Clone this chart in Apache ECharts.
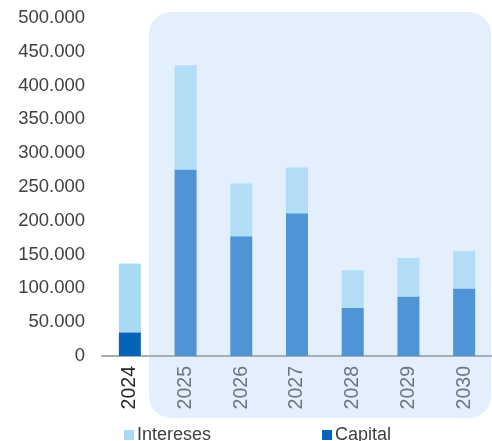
<!DOCTYPE html>
<html lang="es">
<head>
    <meta charset="UTF-8">
    <title>Capital e Intereses</title>
    <script src="https://cdn.jsdelivr.net/npm/echarts@6/dist/echarts.min.js"></script>
</head>
<body style="margin:0;">
<div id="main" style="width:492px; height:441px;"></div>
</body>
<script type="text/javascript">

    // datos del gráfico
    let years = ['2024', '2025', '2026', '2027', '2028', '2029', '2030'];
    let capital = [35000, 276000, 177000, 211000, 71000, 88000, 100000];
    let intereses = [102000, 154000, 78000, 68000, 56000, 57000, 55000];
    let yTicks = [0, 50000, 100000, 150000, 200000, 250000, 300000, 350000, 400000, 450000, 500000];

    // 2024 con color fuerte, el resto en tono proyectado
    function colorize(values, first, rest) {
        return values.map(function (v, i) {
            return {value: v, itemStyle: {color: i === 0 ? first : rest}};
        });
    }

    let myChart = echarts.init(document.getElementById('main'));

    let option = {
        animation: false,
        textStyle: {fontFamily: 'Liberation Sans, Arial, sans-serif'},
        graphic: [{
            type: 'rect',
            z: -10,
            silent: true,
            shape: {x: 149, y: 12, width: 342, height: 406, r: 22},
            style: {fill: '#e3effc'}
        }],
        grid: {left: 102, right: 0, top: 18, bottom: 85},
        legend: {
            data: ['Intereses', 'Capital'],
            left: 119,
            top: 421,
            itemWidth: 10,
            itemHeight: 10,
            itemGap: 111,
            icon: 'rect',
            textStyle: {fontSize: 18, color: '#404040', padding: [0, 0, 0, -2]}
        },
        xAxis: {
            type: 'category',
            data: years,
            axisTick: {show: false},
            axisLine: {lineStyle: {color: '#a8adb2', width: 2}},
            axisLabel: {
                rotate: 90,
                fontSize: 19.5,
                margin: 10,
                color: function (value, index) {
                    return index === 0 ? '#262626' : '#6b7680';
                }
            }
        },
        yAxis: {
            type: 'value',
            min: yTicks[0],
            max: yTicks[yTicks.length - 1],
            interval: yTicks[1] - yTicks[0],
            splitLine: {show: false},
            axisLine: {show: false},
            axisTick: {show: false},
            axisLabel: {
                fontSize: 18.5,
                color: '#404040',
                margin: 17,
                formatter: function (v) {
                    return String(v).replace(/\B(?=(\d{3})+(?!\d))/g, '.');
                }
            }
        },
        series: [{
            name: 'Capital',
            type: 'bar',
            stack: 'total',
            barWidth: 22,
            itemStyle: {color: '#0563b8'},
            data: colorize(capital, '#0563b8', '#4f95d5')
        }, {
            name: 'Intereses',
            type: 'bar',
            stack: 'total',
            barWidth: 22,
            itemStyle: {color: '#a8daf1'},
            data: colorize(intereses, '#a8daf1', '#b2ddf6')
        }]
    };

    myChart.setOption(option);
</script>
</html>
